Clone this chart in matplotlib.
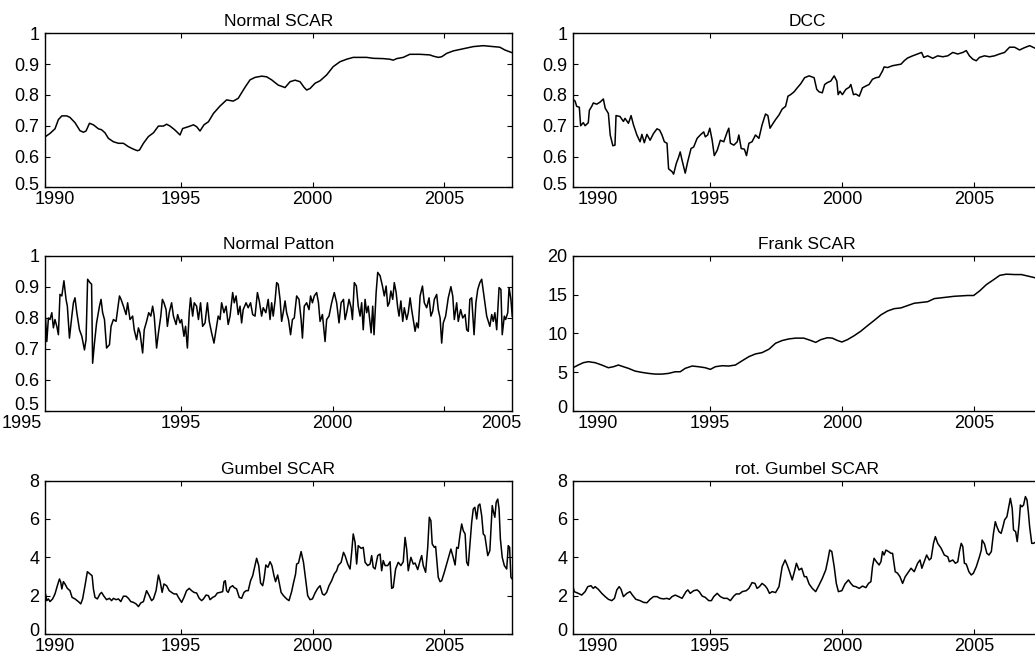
import numpy as np
import matplotlib
matplotlib.use('Agg')
import matplotlib.pyplot as plt
from matplotlib.transforms import ScaledTranslation

plt.rcParams['font.family'] = ['Liberation Sans', 'DejaVu Sans']

# ---- data: (decimal year, value) ----
normal_scar_t = [1989.82, 1990.02, 1990.21, 1990.34, 1990.47, 1990.66, 1990.78, 1990.97, 1991.16, 1991.29,
                 1991.39, 1991.52, 1991.67, 1991.86, 1991.98, 1992.11, 1992.24, 1992.43, 1992.62, 1992.81,
                 1993.0, 1993.19, 1993.34, 1993.42, 1993.57, 1993.76, 1993.95, 1994.14, 1994.33, 1994.45,
                 1994.58, 1994.77, 1994.96, 1995.06, 1995.28, 1995.47, 1995.59, 1995.72, 1995.87, 1996.04,
                 1996.23, 1996.48, 1996.73, 1996.98, 1997.17, 1997.43, 1997.62, 1997.81, 1998.06, 1998.25,
                 1998.44, 1998.69, 1998.95, 1999.14, 1999.33, 1999.52, 1999.67, 1999.77, 1999.9, 2000.09,
                 2000.28, 2000.53, 2000.78, 2001.04, 2001.29, 2001.54, 2001.79, 2002.05, 2002.3, 2002.68,
                 2002.93, 2003.06, 2003.19, 2003.44, 2003.69, 2004.07, 2004.45, 2004.58, 2004.77, 2004.9,
                 2005.09, 2005.34, 2005.72, 2006.1, 2006.48, 2006.86, 2007.11, 2007.3, 2007.55]
normal_scar_v = [0.663, 0.675, 0.69, 0.72, 0.732, 0.732, 0.727, 0.71, 0.684, 0.679,
                 0.683, 0.708, 0.703, 0.69, 0.687, 0.677, 0.659, 0.648, 0.643, 0.643,
                 0.632, 0.624, 0.619, 0.621, 0.643, 0.665, 0.677, 0.699, 0.699, 0.705,
                 0.699, 0.686, 0.67, 0.691, 0.697, 0.703, 0.697, 0.683, 0.703, 0.713,
                 0.74, 0.764, 0.784, 0.78, 0.789, 0.825, 0.849, 0.857, 0.861, 0.859,
                 0.849, 0.832, 0.824, 0.843, 0.848, 0.843, 0.825, 0.816, 0.821, 0.838,
                 0.846, 0.865, 0.892, 0.908, 0.916, 0.922, 0.922, 0.922, 0.919, 0.918,
                 0.916, 0.913, 0.918, 0.922, 0.932, 0.932, 0.93, 0.926, 0.922, 0.924,
                 0.935, 0.943, 0.95, 0.957, 0.96, 0.957, 0.955, 0.946, 0.938]

dcc = [(1989.83, 0.785), (1989.90, 0.78), (1989.96, 0.763), (1990.06, 0.76), (1990.11, 0.70), (1990.21, 0.71),
       (1990.28, 0.70), (1990.40, 0.71), (1990.44, 0.75), (1990.53, 0.763), (1990.59, 0.774), (1990.72, 0.77),
       (1990.85, 0.777), (1990.97, 0.787), (1991.04, 0.757), (1991.16, 0.74), (1991.23, 0.67), (1991.33, 0.635),
       (1991.41, 0.637), (1991.45, 0.733), (1991.60, 0.73), (1991.73, 0.714), (1991.79, 0.724), (1991.92, 0.708),
       (1992.02, 0.733), (1992.11, 0.703), (1992.24, 0.67), (1992.36, 0.648), (1992.43, 0.672), (1992.52, 0.645),
       (1992.62, 0.672), (1992.74, 0.653), (1992.87, 0.675), (1993.0, 0.69), (1993.1, 0.686), (1993.19, 0.67),
       (1993.28, 0.648), (1993.38, 0.643), (1993.44, 0.56), (1993.57, 0.551), (1993.63, 0.543), (1993.73, 0.577),
       (1993.82, 0.598), (1993.88, 0.615), (1993.95, 0.588), (1994.07, 0.546), (1994.16, 0.582), (1994.29, 0.626),
       (1994.39, 0.631), (1994.52, 0.659), (1994.64, 0.67), (1994.77, 0.68), (1994.83, 0.664), (1994.92, 0.67),
       (1995.0, 0.692), (1995.09, 0.653), (1995.17, 0.603), (1995.28, 0.62), (1995.4, 0.653), (1995.53, 0.648),
       (1995.66, 0.68), (1995.72, 0.692), (1995.78, 0.643), (1995.91, 0.637), (1996.04, 0.648), (1996.1, 0.67),
       (1996.19, 0.626), (1996.31, 0.624), (1996.39, 0.603), (1996.48, 0.643), (1996.6, 0.648), (1996.73, 0.67),
       (1996.86, 0.659), (1996.98, 0.703), (1997.11, 0.738), (1997.2, 0.733), (1997.28, 0.692), (1997.36, 0.703),
       (1997.49, 0.72), (1997.62, 0.735), (1997.74, 0.754), (1997.87, 0.763), (1997.96, 0.796), (1998.06, 0.801),
       (1998.19, 0.81), (1998.31, 0.823), (1998.44, 0.836), (1998.59, 0.856), (1998.76, 0.862), (1998.95, 0.856),
       (1999.05, 0.818), (1999.14, 0.81), (1999.26, 0.807), (1999.35, 0.834), (1999.45, 0.84), (1999.58, 0.845),
       (1999.71, 0.862), (1999.81, 0.845), (1999.86, 0.801), (1999.93, 0.812), (2000.02, 0.801), (2000.15, 0.818),
       (2000.28, 0.825), (2000.34, 0.834), (2000.44, 0.801), (2000.53, 0.803), (2000.66, 0.796), (2000.78, 0.823),
       (2000.91, 0.829), (2001.03, 0.834), (2001.16, 0.851), (2001.29, 0.856), (2001.41, 0.858), (2001.54, 0.878),
       (2001.6, 0.891), (2001.73, 0.889), (2001.92, 0.895), (2002.11, 0.898), (2002.24, 0.9), (2002.36, 0.911),
       (2002.49, 0.92), (2002.68, 0.927), (2002.87, 0.933), (2003.02, 0.938), (2003.1, 0.922), (2003.25, 0.927),
       (2003.44, 0.919), (2003.63, 0.927), (2003.82, 0.924), (2004.01, 0.927), (2004.2, 0.938), (2004.39, 0.933),
       (2004.58, 0.938), (2004.71, 0.944), (2004.83, 0.927), (2004.96, 0.916), (2005.09, 0.911), (2005.21, 0.922),
       (2005.4, 0.927), (2005.59, 0.924), (2005.78, 0.927), (2005.97, 0.933), (2006.16, 0.938), (2006.35, 0.955),
       (2006.54, 0.955), (2006.73, 0.946), (2006.9, 0.953), (2007.11, 0.96), (2007.24, 0.955), (2007.36, 0.95),
       (2007.6, 0.95)]

patton = [(1989.85, 0.80), (1989.90, 0.724), (1989.96, 0.80), (1990.02, 0.795), (1990.09, 0.817), (1990.15, 0.768),
          (1990.21, 0.795), (1990.28, 0.773), (1990.34, 0.746), (1990.40, 0.876), (1990.47, 0.871), (1990.55, 0.92),
          (1990.63, 0.86), (1990.68, 0.838), (1990.76, 0.735), (1990.85, 0.806), (1990.91, 0.849), (1990.97, 0.865),
          (1991.04, 0.817), (1991.14, 0.762), (1991.23, 0.741), (1991.33, 0.697), (1991.39, 0.73), (1991.45, 0.925),
          (1991.54, 0.914), (1991.60, 0.909), (1991.64, 0.654), (1991.71, 0.719), (1991.79, 0.784), (1991.90, 0.838),
          (1991.96, 0.86), (1992.02, 0.817), (1992.09, 0.795), (1992.17, 0.703), (1992.28, 0.714), (1992.34, 0.773),
          (1992.43, 0.795), (1992.53, 0.789), (1992.59, 0.827), (1992.66, 0.871), (1992.72, 0.86), (1992.81, 0.838),
          (1992.91, 0.811), (1992.97, 0.849), (1993.06, 0.795), (1993.16, 0.806), (1993.22, 0.762), (1993.31, 0.73),
          (1993.38, 0.768), (1993.44, 0.752), (1993.54, 0.687), (1993.60, 0.762), (1993.69, 0.789), (1993.77, 0.817),
          (1993.85, 0.806), (1993.92, 0.838), (1993.98, 0.806), (1994.07, 0.703), (1994.14, 0.752), (1994.23, 0.806),
          (1994.29, 0.86), (1994.35, 0.849), (1994.43, 0.827), (1994.48, 0.773), (1994.55, 0.817), (1994.64, 0.849),
          (1994.71, 0.806), (1994.81, 0.779), (1994.87, 0.811), (1994.96, 0.784), (1995.02, 0.795), (1995.11, 0.741),
          (1995.17, 0.773), (1995.24, 0.703), (1995.31, 0.817), (1995.36, 0.865), (1995.44, 0.806), (1995.50, 0.849),
          (1995.59, 0.838), (1995.66, 0.795), (1995.74, 0.849), (1995.82, 0.773), (1995.91, 0.784), (1996.00, 0.849),
          (1996.07, 0.789), (1996.16, 0.752), (1996.25, 0.719), (1996.33, 0.762), (1996.41, 0.806), (1996.48, 0.795),
          (1996.54, 0.849), (1996.63, 0.817), (1996.71, 0.838), (1996.79, 0.779), (1996.86, 0.806), (1996.96, 0.882),
          (1997.02, 0.849), (1997.09, 0.871), (1997.17, 0.811), (1997.24, 0.838), (1997.30, 0.784), (1997.36, 0.827),
          (1997.47, 0.849), (1997.55, 0.833), (1997.64, 0.849), (1997.72, 0.811), (1997.81, 0.806), (1997.90, 0.882),
          (1997.97, 0.855), (1998.06, 0.806), (1998.12, 0.833), (1998.22, 0.817), (1998.31, 0.86), (1998.38, 0.795),
          (1998.44, 0.849), (1998.50, 0.806), (1998.57, 0.855), (1998.63, 0.914), (1998.69, 0.909), (1998.76, 0.86),
          (1998.82, 0.789), (1998.89, 0.822), (1998.95, 0.855), (1999.01, 0.817), (1999.08, 0.795), (1999.16, 0.746),
          (1999.23, 0.795), (1999.30, 0.80), (1999.39, 0.871), (1999.48, 0.86), (1999.56, 0.795), (1999.61, 0.735),
          (1999.68, 0.838), (1999.77, 0.849), (1999.86, 0.827), (1999.92, 0.871), (1999.99, 0.849), (2000.06, 0.871),
          (2000.15, 0.882), (2000.22, 0.849), (2000.28, 0.789), (2000.37, 0.811), (2000.47, 0.724), (2000.53, 0.795),
          (2000.62, 0.806), (2000.72, 0.849), (2000.82, 0.882), (2000.91, 0.849), (2001.00, 0.784), (2001.08, 0.849),
          (2001.17, 0.86), (2001.23, 0.795), (2001.29, 0.817), (2001.38, 0.86), (2001.46, 0.833), (2001.51, 0.795),
          (2001.58, 0.914), (2001.66, 0.903), (2001.73, 0.838), (2001.80, 0.806), (2001.86, 0.849), (2001.92, 0.762),
          (2001.99, 0.86), (2002.05, 0.817), (2002.11, 0.838), (2002.22, 0.752), (2002.28, 0.838), (2002.33, 0.746),
          (2002.41, 0.882), (2002.47, 0.947), (2002.56, 0.936), (2002.65, 0.903), (2002.72, 0.871), (2002.79, 0.903),
          (2002.85, 0.838), (2002.91, 0.849), (2002.97, 0.887), (2003.04, 0.86), (2003.10, 0.914), (2003.17, 0.882),
          (2003.23, 0.833), (2003.28, 0.806), (2003.35, 0.855), (2003.42, 0.789), (2003.48, 0.833), (2003.57, 0.795),
          (2003.63, 0.817), (2003.70, 0.865), (2003.76, 0.827), (2003.82, 0.795), (2003.89, 0.757), (2003.95, 0.784),
          (2004.01, 0.768), (2004.08, 0.871), (2004.17, 0.903), (2004.24, 0.849), (2004.33, 0.833), (2004.42, 0.865),
          (2004.49, 0.806), (2004.56, 0.822), (2004.62, 0.86), (2004.71, 0.876), (2004.77, 0.827), (2004.84, 0.80),
          (2004.90, 0.719), (2004.96, 0.784), (2005.05, 0.806), (2005.15, 0.865), (2005.25, 0.901), (2005.32, 0.871),
          (2005.38, 0.795), (2005.47, 0.849), (2005.53, 0.789), (2005.62, 0.827), (2005.70, 0.80), (2005.79, 0.811),
          (2005.85, 0.762), (2005.91, 0.757), (2005.97, 0.86), (2006.04, 0.865), (2006.13, 0.746), (2006.20, 0.849),
          (2006.27, 0.892), (2006.35, 0.914), (2006.42, 0.925), (2006.48, 0.887), (2006.54, 0.849), (2006.61, 0.806),
          (2006.67, 0.789), (2006.73, 0.773), (2006.80, 0.811), (2006.86, 0.789), (2006.92, 0.817), (2006.99, 0.762),
          (2007.08, 0.898), (2007.15, 0.892), (2007.20, 0.746), (2007.28, 0.806), (2007.33, 0.795), (2007.41, 0.817),
          (2007.46, 0.898), (2007.53, 0.86), (2007.58, 0.806)]

frank = [(1989.82, 5.58), (1990.02, 5.93), (1990.21, 6.23), (1990.40, 6.36), (1990.66, 6.23), (1990.91, 5.93),
         (1991.16, 5.58), (1991.35, 5.71), (1991.54, 5.93), (1991.73, 5.71), (1991.92, 5.50), (1992.17, 5.15),
         (1992.43, 4.98), (1992.68, 4.85), (1992.93, 4.76), (1993.19, 4.76), (1993.44, 4.85), (1993.69, 5.06),
         (1993.88, 5.06), (1994.07, 5.50), (1994.33, 5.80), (1994.58, 5.71), (1994.83, 5.58), (1995.02, 5.37),
         (1995.21, 5.71), (1995.47, 5.84), (1995.72, 5.80), (1995.97, 5.93), (1996.23, 6.49), (1996.48, 7.01),
         (1996.73, 7.36), (1996.98, 7.53), (1997.24, 7.97), (1997.49, 8.74), (1997.74, 9.09), (1998.0, 9.3),
         (1998.25, 9.4), (1998.56, 9.4), (1998.82, 9.1), (1999.01, 8.85), (1999.2, 9.2), (1999.45, 9.45),
         (1999.64, 9.4), (1999.83, 9.1), (2000.0, 8.9), (2000.21, 9.2), (2000.46, 9.7), (2000.72, 10.3),
         (2000.97, 11.0), (2001.23, 11.7), (2001.48, 12.4), (2001.73, 12.9), (2001.98, 13.2), (2002.24, 13.3),
         (2002.49, 13.6), (2002.74, 13.9), (2003.0, 14.0), (2003.25, 14.1), (2003.5, 14.5), (2003.76, 14.6),
         (2004.01, 14.7), (2004.26, 14.8), (2004.52, 14.85), (2004.75, 14.9), (2004.99, 14.9), (2005.22, 15.5),
         (2005.47, 16.3), (2005.73, 16.9), (2005.98, 17.5), (2006.23, 17.65), (2006.55, 17.6), (2006.8, 17.6),
         (2007.05, 17.4), (2007.3, 17.2), (2007.55, 17.0)]

gumbel = [(1989.82, 2.0), (1989.85, 2.09), (1989.90, 1.74), (1989.96, 1.83), (1990.02, 1.69), (1990.12, 1.83),
          (1990.21, 2.09), (1990.30, 2.52), (1990.38, 2.87), (1990.43, 2.70), (1990.47, 2.35), (1990.53, 2.73),
          (1990.59, 2.61), (1990.68, 2.38), (1990.78, 2.26), (1990.86, 1.91), (1990.97, 1.83), (1991.10, 1.69),
          (1991.19, 1.57), (1991.26, 1.83), (1991.35, 2.52), (1991.44, 3.25), (1991.54, 3.13), (1991.62, 3.04),
          (1991.67, 2.35), (1991.73, 1.91), (1991.82, 1.83), (1991.92, 2.09), (1991.98, 2.17), (1992.07, 1.97),
          (1992.17, 1.79), (1992.28, 1.86), (1992.36, 1.74), (1992.43, 1.86), (1992.53, 1.79), (1992.62, 1.83),
          (1992.71, 1.69), (1992.81, 1.97), (1992.91, 1.97), (1993.00, 1.86), (1993.09, 1.69), (1993.19, 1.65),
          (1993.29, 1.57), (1993.38, 1.43), (1993.47, 1.62), (1993.57, 1.69), (1993.69, 2.26), (1993.79, 2.0),
          (1993.88, 1.74), (1993.95, 1.83), (1994.05, 2.26), (1994.14, 3.08), (1994.20, 2.78), (1994.28, 2.17),
          (1994.35, 2.61), (1994.45, 2.52), (1994.55, 2.26), (1994.64, 2.17), (1994.73, 2.09), (1994.83, 2.09),
          (1994.90, 1.91), (1994.98, 1.74), (1995.02, 1.65), (1995.11, 1.91), (1995.21, 2.26), (1995.31, 2.38),
          (1995.40, 2.26), (1995.49, 2.17), (1995.59, 2.14), (1995.69, 1.86), (1995.78, 1.74), (1995.85, 1.83),
          (1995.95, 2.03), (1996.04, 2.0), (1996.10, 1.79), (1996.20, 1.91), (1996.29, 1.97), (1996.38, 2.14),
          (1996.48, 2.17), (1996.58, 2.21), (1996.63, 2.73), (1996.68, 2.78), (1996.73, 2.26), (1996.79, 2.17),
          (1996.86, 2.43), (1996.96, 2.52), (1997.01, 2.43), (1997.11, 2.35), (1997.21, 1.91), (1997.30, 1.86),
          (1997.39, 2.17), (1997.47, 2.26), (1997.55, 2.26), (1997.64, 2.78), (1997.72, 3.04), (1997.81, 3.6),
          (1997.87, 3.95), (1997.95, 3.57), (1998.02, 2.66), (1998.10, 2.52), (1998.15, 2.87), (1998.22, 3.6),
          (1998.30, 3.48), (1998.38, 3.77), (1998.45, 3.57), (1998.53, 3.04), (1998.59, 2.73), (1998.67, 3.08),
          (1998.72, 2.73), (1998.80, 2.17), (1998.89, 2.0), (1999.01, 1.83), (1999.10, 1.74), (1999.20, 2.21),
          (1999.27, 2.66), (1999.35, 3.13), (1999.39, 3.65), (1999.46, 3.70), (1999.56, 4.30), (1999.65, 3.74),
          (1999.73, 2.87), (1999.81, 2.0), (1999.90, 1.79), (1999.99, 1.83), (2000.09, 2.14), (2000.19, 2.38),
          (2000.28, 2.52), (2000.37, 2.09), (2000.44, 2.03), (2000.53, 2.17), (2000.62, 2.52), (2000.72, 2.78),
          (2000.82, 3.13), (2000.91, 3.30), (2000.97, 3.57), (2001.08, 3.74), (2001.17, 4.26), (2001.23, 4.09),
          (2001.33, 3.65), (2001.42, 3.39), (2001.48, 4.26), (2001.54, 5.22), (2001.61, 4.78), (2001.67, 3.65),
          (2001.73, 4.61), (2001.84, 4.47), (2001.92, 4.52), (2001.99, 3.74), (2002.09, 3.57), (2002.18, 3.65),
          (2002.24, 4.09), (2002.30, 3.48), (2002.37, 3.39), (2002.47, 4.09), (2002.56, 4.17), (2002.62, 3.30),
          (2002.68, 3.83), (2002.75, 3.57), (2002.85, 3.57), (2002.94, 3.77), (2003.00, 2.38), (2003.06, 2.43),
          (2003.15, 3.39), (2003.25, 3.74), (2003.35, 3.57), (2003.44, 3.77), (2003.51, 5.04), (2003.57, 4.43),
          (2003.63, 3.30), (2003.73, 4.0), (2003.82, 3.65), (2003.89, 3.70), (2003.99, 3.36), (2004.08, 3.83),
          (2004.14, 4.09), (2004.20, 3.57), (2004.29, 3.22), (2004.37, 4.52), (2004.43, 6.09), (2004.49, 5.91),
          (2004.54, 4.70), (2004.62, 4.52), (2004.67, 4.57), (2004.77, 2.96), (2004.84, 2.73), (2004.90, 2.78),
          (2005.00, 3.22), (2005.09, 3.65), (2005.18, 4.09), (2005.25, 4.43), (2005.32, 4.09), (2005.41, 3.60),
          (2005.47, 4.52), (2005.53, 4.47), (2005.60, 5.22), (2005.66, 5.74), (2005.72, 5.39), (2005.79, 5.22),
          (2005.85, 3.74), (2005.91, 3.57), (2005.97, 4.61), (2006.04, 5.83), (2006.10, 6.52), (2006.16, 6.61),
          (2006.23, 6.0), (2006.29, 6.70), (2006.35, 6.78), (2006.42, 6.17), (2006.48, 5.22), (2006.54, 5.13),
          (2006.65, 4.09), (2006.73, 4.35), (2006.82, 6.70), (2006.87, 6.35), (2006.92, 6.09), (2006.97, 6.87),
          (2007.03, 7.04), (2007.08, 6.52), (2007.13, 4.96), (2007.20, 4.0), (2007.28, 3.57), (2007.37, 3.39),
          (2007.43, 4.61), (2007.48, 4.52), (2007.53, 2.96), (2007.58, 2.87)]

rot_gumbel = [(1989.82, 2.47), (1989.87, 2.21), (1990.02, 2.12), (1990.15, 2.03), (1990.28, 2.21), (1990.38, 2.47),
              (1990.50, 2.52), (1990.59, 2.38), (1990.66, 2.47), (1990.78, 2.33), (1990.91, 2.12), (1991.04, 1.95),
              (1991.16, 1.81), (1991.29, 1.74), (1991.39, 1.86), (1991.48, 2.30), (1991.57, 2.47), (1991.64, 2.33),
              (1991.73, 1.95), (1991.86, 2.12), (1991.98, 2.21), (1992.07, 2.03), (1992.20, 1.81), (1992.36, 1.74),
              (1992.49, 1.65), (1992.62, 1.63), (1992.74, 1.81), (1992.87, 1.95), (1993.00, 1.95), (1993.12, 1.86),
              (1993.25, 1.83), (1993.38, 1.86), (1993.47, 1.81), (1993.57, 1.95), (1993.69, 2.03), (1993.82, 1.95),
              (1993.95, 1.86), (1994.10, 2.21), (1994.17, 2.30), (1994.26, 2.12), (1994.39, 2.26), (1994.52, 2.30),
              (1994.60, 2.21), (1994.71, 1.98), (1994.83, 1.91), (1994.96, 1.74), (1995.06, 1.74), (1995.15, 1.95),
              (1995.28, 2.12), (1995.40, 1.95), (1995.53, 1.86), (1995.66, 1.86), (1995.78, 1.74), (1995.91, 1.98),
              (1996.00, 2.09), (1996.12, 2.09), (1996.23, 2.21), (1996.38, 2.26), (1996.48, 2.38), (1996.60, 2.68),
              (1996.71, 2.64), (1996.79, 2.38), (1996.88, 2.47), (1996.98, 2.64), (1997.09, 2.52), (1997.17, 2.38),
              (1997.26, 2.12), (1997.36, 2.21), (1997.49, 2.16), (1997.62, 2.47), (1997.74, 3.51), (1997.85, 3.86),
              (1997.93, 3.60), (1998.02, 3.25), (1998.12, 2.82), (1998.22, 3.34), (1998.28, 3.69), (1998.38, 3.34),
              (1998.48, 3.43), (1998.58, 2.99), (1998.66, 2.99), (1998.76, 2.61), (1998.88, 2.38), (1999.01, 2.21),
              (1999.14, 2.56), (1999.26, 2.90), (1999.39, 3.34), (1999.47, 3.86), (1999.54, 4.38), (1999.62, 4.30),
              (1999.71, 3.51), (1999.79, 2.64), (1999.87, 2.21), (2000.00, 2.26), (2000.12, 2.61), (2000.25, 2.82),
              (2000.34, 2.64), (2000.43, 2.50), (2000.53, 2.47), (2000.66, 2.38), (2000.78, 2.50), (2000.91, 2.42),
              (2001.01, 2.64), (2001.10, 2.73), (2001.16, 3.51), (2001.22, 3.95), (2001.31, 3.77), (2001.41, 3.60),
              (2001.48, 3.77), (2001.54, 4.30), (2001.60, 4.12), (2001.67, 4.38), (2001.77, 4.30), (2001.86, 4.21),
              (2001.92, 4.21), (2002.02, 3.25), (2002.11, 3.17), (2002.20, 2.99), (2002.30, 2.64), (2002.40, 2.99),
              (2002.49, 3.17), (2002.62, 3.43), (2002.74, 3.25), (2002.87, 3.69), (2002.96, 3.86), (2003.03, 3.43),
              (2003.12, 3.77), (2003.21, 4.12), (2003.31, 3.86), (2003.38, 3.95), (2003.47, 4.73), (2003.54, 5.08),
              (2003.63, 4.73), (2003.76, 4.47), (2003.88, 4.12), (2004.01, 4.03), (2004.07, 3.77), (2004.20, 3.86),
              (2004.30, 3.69), (2004.39, 3.77), (2004.45, 4.30), (2004.52, 4.73), (2004.58, 4.56), (2004.64, 3.69),
              (2004.71, 3.65), (2004.81, 3.25), (2004.90, 3.08), (2004.98, 3.17), (2005.09, 3.51), (2005.21, 4.03),
              (2005.28, 4.38), (2005.31, 4.90), (2005.40, 4.70), (2005.49, 4.21), (2005.57, 4.12), (2005.66, 4.30),
              (2005.74, 5.25), (2005.81, 5.86), (2005.87, 5.60), (2005.95, 5.34), (2006.03, 5.25), (2006.10, 5.60),
              (2006.16, 5.95), (2006.25, 6.12), (2006.33, 6.73), (2006.38, 7.08), (2006.45, 6.56), (2006.50, 5.43),
              (2006.58, 5.34), (2006.64, 4.82), (2006.71, 5.77), (2006.76, 6.73), (2006.82, 6.64), (2006.88, 6.73),
              (2006.95, 7.17), (2007.01, 7.0), (2007.06, 6.38), (2007.11, 5.60), (2007.19, 4.73), (2007.26, 4.73),
              (2007.36, 4.82), (2007.6, 4.8)]

titles = ['Normal SCAR', 'DCC', 'Normal Patton', 'Frank SCAR', 'Gumbel SCAR', 'rot. Gumbel SCAR']

corr_ticks = [0.5, 0.6, 0.7, 0.8, 0.9, 1.0]
corr_labels = ['0.5', '0.6', '0.7', '0.8', '0.9', '1']
frank_ticks = [0, 5, 10, 15, 20]
gumbel_ticks = [0, 2, 4, 6, 8]

year_ticks = [1989.83, 1995, 2000, 2005]
year_labels = ['1990', '1995', '2000', '2005']
# the Patton panel has its own (odd) tick marks and labels
patton_tick_marks = [1995.0, 2000.76, 2005.0]
patton_label_pos = [1988.96, 1995.0, 2000.77, 2007.18]
patton_labels = ['1995', '1995', '2000', '2005']

XLIM = (1989.82, 2007.56)

fig = plt.figure(figsize=(10.35, 6.58), dpi=100)

lefts = [0.0432, 0.5536]
widths = [0.4512, 0.4527]
bottoms = [0.7153, 0.3754, 0.0365]
heights = [0.2340, 0.2356, 0.2330]

series = [
    (np.array(normal_scar_t), np.array(normal_scar_v)),
    tuple(np.array(dcc).T),
    tuple(np.array(patton).T),
    tuple(np.array(frank).T),
    tuple(np.array(gumbel).T),
    tuple(np.array(rot_gumbel).T),
]
yspecs = [
    ((0.5, 1.0), corr_ticks, corr_labels),
    ((0.5, 1.0), corr_ticks, corr_labels),
    ((0.5, 1.0), corr_ticks, corr_labels),
    ((0, 20), frank_ticks, [str(v) for v in frank_ticks]),
    ((0, 8), gumbel_ticks, [str(v) for v in gumbel_ticks]),
    ((0, 8), gumbel_ticks, [str(v) for v in gumbel_ticks]),
]

FS = 13
for i in range(6):
    row, col = divmod(i, 2)
    ax = fig.add_axes([lefts[col], bottoms[row], widths[col], heights[row]])
    t, v = series[i]
    ax.plot(t, v, color='black', lw=1.1)

    ax.set_xlim(*XLIM)
    ylim, yt, ylab = yspecs[i]
    ax.set_ylim(*ylim)
    for s in ax.spines.values():
        s.set_linewidth(1.0)
    ax.tick_params(direction='in', top=True, right=True, length=3.5, width=0.8,
                   labelsize=FS, colors='black')
    ax.tick_params(axis='x', pad=3)
    ax.tick_params(axis='y', pad=4)
    ax.set_yticks(yt, ylab)
    ax.set_title(titles[i], fontsize=12.5, pad=5)

    lift = 0.04
    if titles[i] == 'Normal Patton':
        lift = 0.07
        ax.set_xticks(patton_tick_marks, ['1995', '2000', ''])
        for xp, lab in [(patton_label_pos[0], patton_labels[0]),
                        (patton_label_pos[3], patton_labels[3])]:
            ax.annotate(lab, xy=(xp, 0), xycoords=('data', 'axes fraction'),
                        xytext=(0, -3), textcoords='offset points',
                        ha='center', va='top', fontsize=FS, annotation_clip=False)
    else:
        ax.set_xticks(year_ticks, year_labels)
        shift = 0.10 if col == 0 else 0.25
        first = ax.get_xticklabels()[0]
        first.set_transform(first.get_transform() +
                            ScaledTranslation(shift, 0, fig.dpi_scale_trans))

    bottom_lab = ax.get_yticklabels()[0]
    bottom_lab.set_transform(bottom_lab.get_transform() +
                             ScaledTranslation(0, lift, fig.dpi_scale_trans))

fig.savefig('out.png', dpi=100)
